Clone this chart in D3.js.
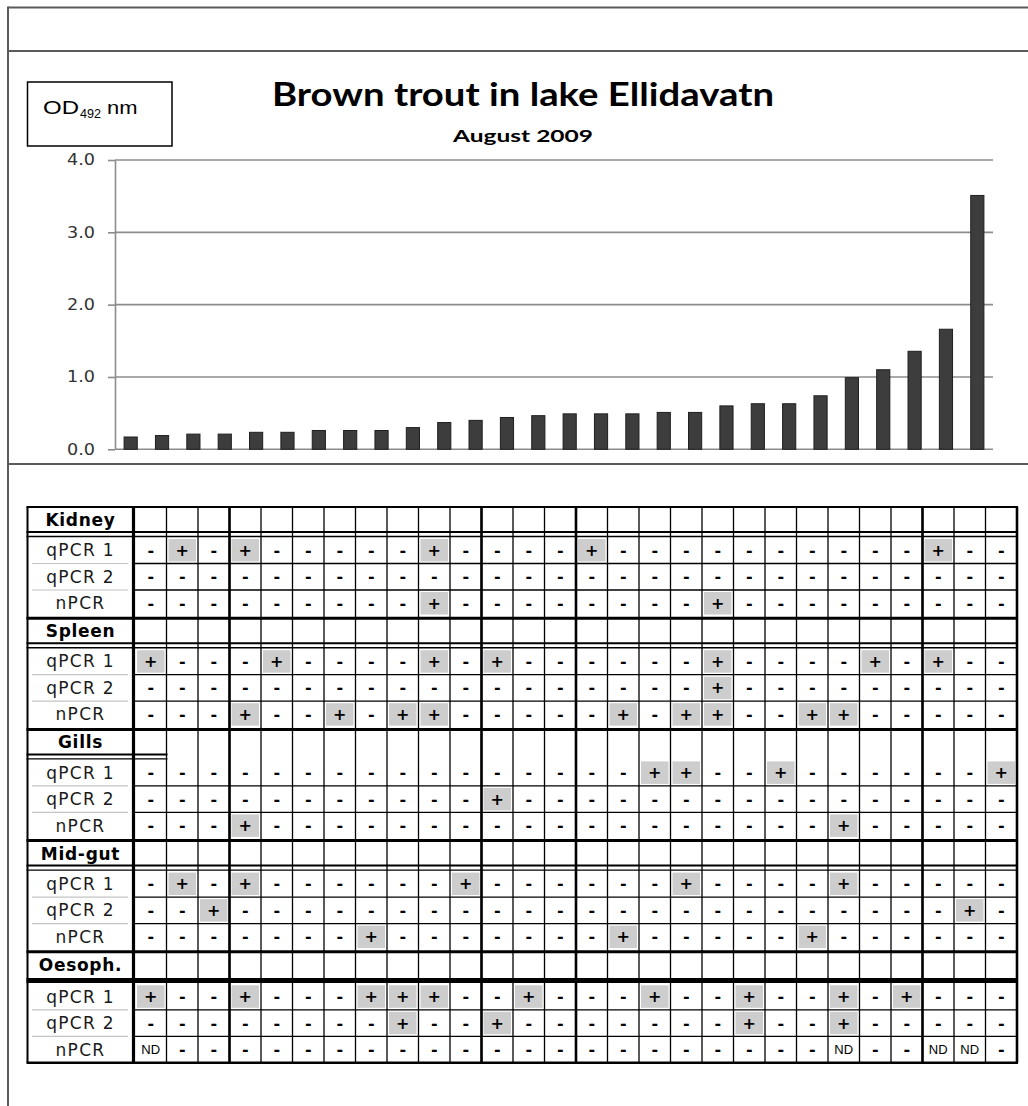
<!DOCTYPE html>
<html>
<head>
<meta charset="utf-8">
<script src="https://cdn.jsdelivr.net/npm/d3@7"></script>
<style>
  body { margin: 0; background: #fff; }
  svg { display: block; }
</style>
</head>
<body>
<div id="chart"></div>
<script>
// OD492 values per fish, sorted as in the figure
const odValues = [0.17, 0.19, 0.21, 0.21, 0.235, 0.235, 0.26, 0.26, 0.26, 0.30,
  0.37, 0.40, 0.44, 0.465, 0.49, 0.49, 0.49, 0.51, 0.51, 0.60,
  0.63, 0.63, 0.74, 0.99, 1.10, 1.355, 1.66, 3.51];
const yTicks = [0, 1, 2, 3, 4];

const tissues = ['Kidney', 'Spleen', 'Gills', 'Mid-gut', 'Oesoph.'];
const assays = ['qPCR 1', 'qPCR 2', 'nPCR'];

// positive fish (column index) per assay: qPCR 1, qPCR 2, nPCR
const kidneyPos = [[1, 3, 9, 14, 25], [], [9, 18]];
const spleenPos = [[0, 4, 9, 11, 18, 23, 25], [18], [3, 6, 8, 9, 15, 17, 18, 21, 22]];
const gillsPos = [[16, 17, 20, 27], [11], [3, 22]];
const midgutPos = [[1, 3, 10, 17, 22], [2, 26], [7, 15, 21]];
const oesophPos = [[0, 3, 7, 8, 9, 12, 16, 19, 22, 24], [8, 11, 19, 22], []];
// not determined
const oesophNd = [[], [], [0, 22, 25, 26]];

const positives = [kidneyPos, spleenPos, gillsPos, midgutPos, oesophPos];
const notDone = [[[], [], []], [[], [], []], [[], [], []], [[], [], []], oesophNd];

const width = 1028, height = 1106;
const svg = d3.select('#chart').append('svg')
  .attr('width', width)
  .attr('height', height);

// frame lines
const frame = svg.append('g').attr('stroke', '#5a5a5a').attr('stroke-width', 2);
frame.append('line').attr('x1', 8).attr('x2', width).attr('y1', 7.5).attr('y2', 7.5);
frame.append('line').attr('x1', 8).attr('x2', width).attr('y1', 51).attr('y2', 51);
frame.append('line').attr('x1', 8).attr('x2', width).attr('y1', 464).attr('y2', 464);
frame.append('line').attr('x1', 8).attr('x2', 8).attr('y1', 6.5).attr('y2', height);

// titles
svg.append('text')
  .attr('x', 272).attr('y', 106)
  .attr('textLength', 502).attr('lengthAdjust', 'spacingAndGlyphs')
  .style('font-family', 'Lato, sans-serif').style('font-weight', 'bold').style('font-size', '32px')
  .text('Brown trout in lake Ellidavatn');
svg.append('text')
  .attr('x', 453).attr('y', 142)
  .attr('textLength', 140).attr('lengthAdjust', 'spacingAndGlyphs')
  .style('font-family', 'Lato, sans-serif').style('font-weight', 'bold').style('font-size', '17.5px')
  .text('August 2009');

// y label box
const odBox = svg.append('g').style('font-family', '"Liberation Sans", Arial, sans-serif');
odBox.append('rect')
  .attr('x', 27.5).attr('y', 82).attr('width', 144.5).attr('height', 64)
  .attr('fill', 'none').attr('stroke', '#000').attr('stroke-width', 1.5);
odBox.append('text').attr('x', 43).attr('y', 114)
  .attr('textLength', 36).attr('lengthAdjust', 'spacingAndGlyphs')
  .style('font-size', '19px').text('OD');
odBox.append('text').attr('x', 80).attr('y', 118)
  .attr('textLength', 21).attr('lengthAdjust', 'spacingAndGlyphs')
  .style('font-size', '12px').text('492');
odBox.append('text').attr('x', 107).attr('y', 114)
  .attr('textLength', 30.5).attr('lengthAdjust', 'spacingAndGlyphs')
  .style('font-size', '19px').text('nm');

// bar chart
const plot = { left: 115, right: 993, top: 160, bottom: 449.3 };
const x = d3.scaleBand()
  .domain(d3.range(odValues.length))
  .range([plot.left, plot.right])
  .paddingInner(0.58)
  .paddingOuter(0.29);
const y = d3.scaleLinear().domain([0, 4]).range([plot.bottom, plot.top]);

svg.append('g')
  .selectAll('line')
  .data(yTicks)
  .join('line')
  .attr('x1', plot.left).attr('x2', plot.right)
  .attr('y1', d => y(d)).attr('y2', d => y(d))
  .attr('stroke', '#8c8c8c').attr('stroke-width', 1.6);

const yAxis = svg.append('g')
  .attr('transform', `translate(${plot.left},0)`)
  .call(d3.axisLeft(y).tickValues(yTicks).tickSize(7).tickSizeOuter(0).tickPadding(13)
    .tickFormat(d3.format('.1f')));
yAxis.select('.domain').attr('stroke', '#8c8c8c').attr('stroke-width', 1.6);
yAxis.selectAll('.tick line').attr('stroke', '#8c8c8c').attr('stroke-width', 1.6);
yAxis.selectAll('.tick text')
  .attr('fill', '#333')
  .attr('textLength', 28).attr('lengthAdjust', 'spacingAndGlyphs')
  .style('font-family', '"DejaVu Sans", Verdana, sans-serif')
  .style('font-size', '15px');

svg.append('g')
  .selectAll('rect')
  .data(odValues)
  .join('rect')
  .attr('x', (d, i) => x(i))
  .attr('width', x.bandwidth())
  .attr('y', d => y(d))
  .attr('height', d => y(0) - y(d))
  .attr('fill', '#3d3d3d')
  .attr('stroke', '#1f1f1f')
  .attr('stroke-width', 1);

// results table
const tableLeft = 27.5, labelRight = 133.5, tableRight = 1017;
const col = d3.scaleBand().domain(d3.range(odValues.length)).range([135, tableRight]);
const rowH = 26.5;
const groupTop = g => 507 + g * 111.2;
const dataTop = g => groupTop(g) + (g === tissues.length - 1 ? 31.5 : 30);
const tableBottom = dataTop(tissues.length - 1) + 3 * rowH;

const cells = [];
tissues.forEach((t, g) => {
  assays.forEach((a, r) => {
    d3.range(odValues.length).forEach(c => {
      let v = '-';
      if (positives[g][r].includes(c)) v = '+';
      if (notDone[g][r].includes(c)) v = 'ND';
      cells.push({ g, r, c, v });
    });
  });
});

const table = svg.append('g');

// grey fill behind positives
table.append('g')
  .selectAll('rect')
  .data(cells.filter(d => d.v === '+'))
  .join('rect')
  .attr('x', d => col(d.c) + 2)
  .attr('y', d => dataTop(d.g) + d.r * rowH + 2)
  .attr('width', col.bandwidth() - 4)
  .attr('height', rowH - 4)
  .attr('fill', '#cdcdcd');

const lines = table.append('g').attr('stroke', '#000');

// thin vertical lines
lines.selectAll('.vthin')
  .data(d3.range(1, odValues.length))
  .join('line')
  .attr('x1', c => col(c)).attr('x2', c => col(c))
  .attr('y1', groupTop(0)).attr('y2', tableBottom)
  .attr('stroke-width', 1.3);

// thick vertical lines
const thickCols = [3, 11, 14, 25];
lines.selectAll('.vthick')
  .data(thickCols)
  .join('line')
  .attr('x1', c => col(c)).attr('x2', c => col(c))
  .attr('y1', groupTop(0)).attr('y2', tableBottom)
  .attr('stroke-width', 2.6);
lines.append('line').attr('x1', tableRight).attr('x2', tableRight)
  .attr('y1', groupTop(0)).attr('y2', tableBottom).attr('stroke-width', 2.6);
lines.append('line').attr('x1', labelRight).attr('x2', labelRight)
  .attr('y1', groupTop(0)).attr('y2', tableBottom).attr('stroke-width', 3.2);
lines.append('line').attr('x1', tableLeft).attr('x2', tableLeft)
  .attr('y1', groupTop(0)).attr('y2', tableBottom).attr('stroke-width', 2);

tissues.forEach((t, g) => {
  const top = groupTop(g);
  lines.append('line').attr('x1', tableLeft - 1).attr('x2', tableRight + 1)
    .attr('y1', top).attr('y2', top).attr('stroke-width', g === 0 ? 2 : 3);

  // separator under the tissue row
  const sepRight = t === 'Gills' ? col(1) : tableRight;
  if (g === tissues.length - 1) {
    lines.append('line').attr('x1', tableLeft - 1).attr('x2', sepRight + 1)
      .attr('y1', top + 28.8).attr('y2', top + 28.8).attr('stroke-width', 5);
  } else {
    lines.append('line').attr('x1', tableLeft - 1).attr('x2', sepRight + 1)
      .attr('y1', top + 25).attr('y2', top + 25).attr('stroke-width', 2);
    lines.append('line').attr('x1', tableLeft - 1).attr('x2', sepRight + 1)
      .attr('y1', top + 29.5).attr('y2', top + 29.5).attr('stroke-width', 1.4);
  }

  [1, 2].forEach(r => {
    const yy = dataTop(g) + r * rowH;
    lines.append('line').attr('x1', 135).attr('x2', tableRight)
      .attr('y1', yy).attr('y2', yy).attr('stroke-width', 1.3);
    lines.append('line').attr('x1', 32).attr('x2', 128)
      .attr('y1', yy).attr('y2', yy).attr('stroke', '#c4c4c4').attr('stroke-width', 1.2);
  });

  table.append('text')
    .attr('x', (tableLeft + labelRight) / 2).attr('y', top + 13)
    .attr('text-anchor', 'middle').attr('dominant-baseline', 'central')
    .style('font-family', '"DejaVu Sans", sans-serif').style('font-weight', 'bold')
    .style('font-size', '17px').style('letter-spacing', '0.7px')
    .text(t);

  assays.forEach((a, r) => {
    table.append('text')
      .attr('x', (tableLeft + labelRight) / 2).attr('y', dataTop(g) + r * rowH + rowH / 2)
      .attr('text-anchor', 'middle').attr('dominant-baseline', 'central')
      .attr('fill', '#1a1a1a')
      .style('font-family', '"DejaVu Sans", sans-serif')
      .style('font-size', '17px').style('letter-spacing', '1.3px')
      .text(a);
  });
});
lines.append('line').attr('x1', tableLeft - 1).attr('x2', tableRight + 1)
  .attr('y1', tableBottom).attr('y2', tableBottom).attr('stroke-width', 2.5);

table.append('g')
  .selectAll('text')
  .data(cells)
  .join('text')
  .attr('x', d => col(d.c) + col.bandwidth() / 2)
  .attr('y', d => dataTop(d.g) + d.r * rowH + rowH / 2)
  .attr('text-anchor', 'middle')
  .attr('dominant-baseline', 'central')
  .style('font-family', d => d.v === 'ND' ? '"Liberation Sans", Arial, sans-serif' : '"DejaVu Sans", sans-serif')
  .style('font-weight', d => d.v === 'ND' ? 'normal' : 'bold')
  .style('font-size', d => d.v === 'ND' ? '13px' : '16px')
  .text(d => d.v);
</script>
</body>
</html>
